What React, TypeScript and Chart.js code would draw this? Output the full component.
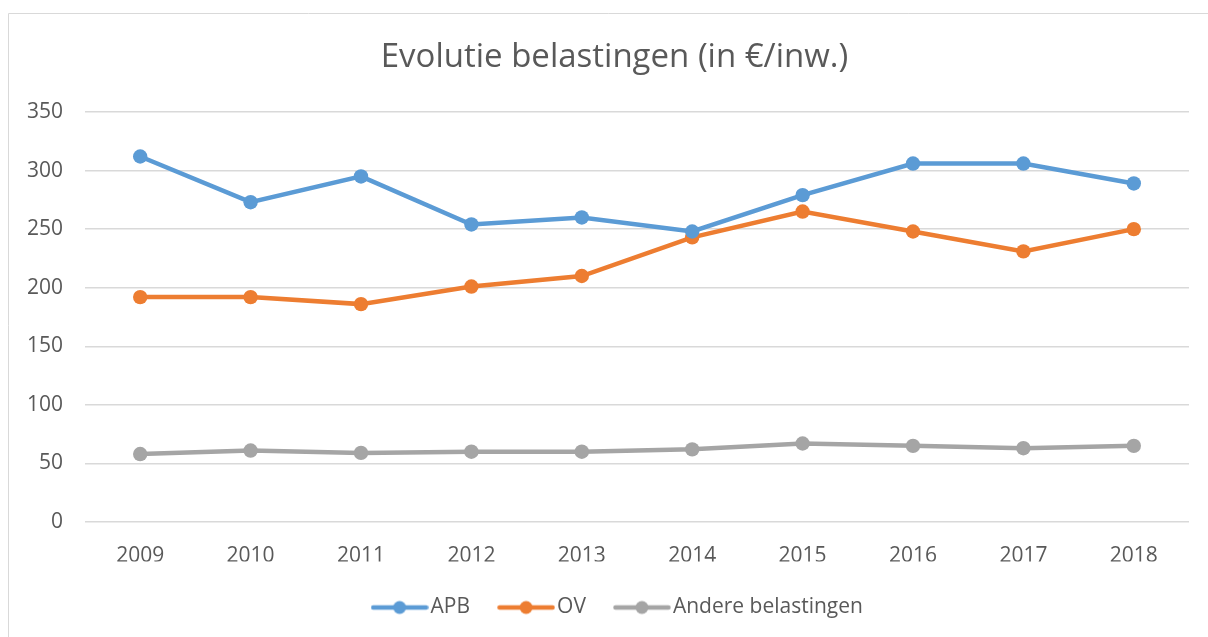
import React, { useEffect, useRef } from "react";
import { Chart, registerables } from "chart.js";

Chart.register(...registerables);

const chartTitle = "Evolutie belastingen (in €/inw.)";
const years = ["2009", "2010", "2011", "2012", "2013", "2014", "2015", "2016", "2017", "2018"];
const seriesNames = ["APB", "OV", "Andere belastingen"];
const apbValues = [312, 273, 295, 254, 260, 248, 279, 306, 306, 289];
const ovValues = [192, 192, 186, 201, 210, 243, 265, 248, 231, 250];
const andereValues = [58, 61, 59, 60, 60, 62, 67, 65, 63, 65];
const yMin = 0;
const yMax = 350;
const yStep = 50;
const seriesColors = ["#5B9BD5", "#ED7D31", "#A5A5A5"];

const FONT = "'Open Sans', 'Noto Sans', sans-serif";
const TEXT = "#595959";
const GRID = "#D9D9D9";

function makeLegendIcon(color: string): HTMLCanvasElement {
  const c = document.createElement("canvas");
  c.width = 58;
  c.height = 16;
  const ctx = c.getContext("2d")!;
  ctx.strokeStyle = color;
  ctx.lineWidth = 4.5;
  ctx.lineCap = "round";
  ctx.beginPath();
  ctx.moveTo(2.5, 8);
  ctx.lineTo(55.5, 8);
  ctx.stroke();
  ctx.fillStyle = color;
  ctx.beginPath();
  ctx.arc(29, 8, 6.5, 0, Math.PI * 2);
  ctx.fill();
  return c;
}

const frameBorder = {
  id: "frameBorder",
  beforeDraw(chart: any) {
    const ctx = chart.ctx;
    ctx.save();
    ctx.strokeStyle = GRID;
    ctx.lineWidth = 1;
    ctx.beginPath();
    ctx.moveTo(8.5, chart.height);
    ctx.lineTo(8.5, 13.5);
    ctx.lineTo(chart.width, 13.5);
    ctx.stroke();
    ctx.restore();
  },
};

const boxShift = {
  id: "boxShift",
  afterLayout(chart: any) {
    if (chart.legend) {
      chart.legend.left += 26.5;
      chart.legend.right += 26.5;
    }
    if (chart.titleBlock) {
      chart.titleBlock.left += 20;
      chart.titleBlock.right += 20;
    }
  },
};

export default function App() {
  const ref = useRef<HTMLCanvasElement | null>(null);

  useEffect(() => {
    if (!ref.current) return;
    const icons = seriesColors.map((c) => makeLegendIcon(c));
    const values = [apbValues, ovValues, andereValues];
    const chart = new Chart(ref.current, {
      type: "line",
      data: {
        labels: years,
        datasets: seriesNames.map((name, i) => ({
          label: name,
          data: values[i],
          borderColor: seriesColors[i],
          backgroundColor: seriesColors[i],
          borderWidth: 4.5,
          pointRadius: 7.2,
          pointBorderWidth: 0,
          pointStyle: "circle",
          tension: 0,
          fill: false,
        })),
      },
      plugins: [frameBorder, boxShift],
      options: {
        animation: false,
        responsive: false,
        maintainAspectRatio: false,
        layout: { padding: { left: 0, right: 19, top: 0, bottom: 9 } },
        plugins: {
          tooltip: { enabled: false },
          title: {
            display: true,
            text: chartTitle,
            color: TEXT,
            font: { family: FONT, size: 33, weight: "normal", lineHeight: 1.2 },
            padding: { top: 38.1, bottom: 34.3 },
          },
          legend: {
            display: true,
            position: "bottom",
            labels: {
              color: TEXT,
              font: { family: FONT, size: 21 },
              usePointStyle: true,
              pointStyleWidth: 41,
              padding: 35.5,
              generateLabels: (ch: any) =>
                ch.data.datasets.map((ds: any, i: number) => ({
                  text: ds.label,
                  pointStyle: icons[i],
                  fillStyle: seriesColors[i],
                  strokeStyle: seriesColors[i],
                  lineWidth: 0,
                  hidden: false,
                  datasetIndex: i,
                  fontColor: TEXT,
                })),
            },
          },
        },
        scales: {
          x: {
            type: "category",
            offset: true,
            grid: { display: false, drawTicks: false },
            border: { display: false },
            ticks: {
              color: TEXT,
              font: { family: FONT, size: 21 },
              padding: 21,
              maxRotation: 0,
              autoSkip: false,
            },
            afterFit: (scale: any) => {
              scale.height = 39.5;
            },
          },
          y: {
            min: yMin,
            max: yMax,
            grid: { color: GRID, lineWidth: 1.5, drawTicks: false },
            border: { display: false },
            ticks: {
              stepSize: yStep,
              color: TEXT,
              font: { family: FONT, size: 21 },
              padding: 22,
            },
            afterFit: (scale: any) => {
              scale.width = 85;
            },
          },
        },
      },
    });
    return () => chart.destroy();
  }, []);

  return (
    <div style={{ position: "absolute", left: 0, top: 0, width: 1208, height: 637, background: "#fff" }}>
      <canvas ref={ref} width={1208} height={637} style={{ display: "block", width: 1208, height: 637 }} />
    </div>
  );
}
